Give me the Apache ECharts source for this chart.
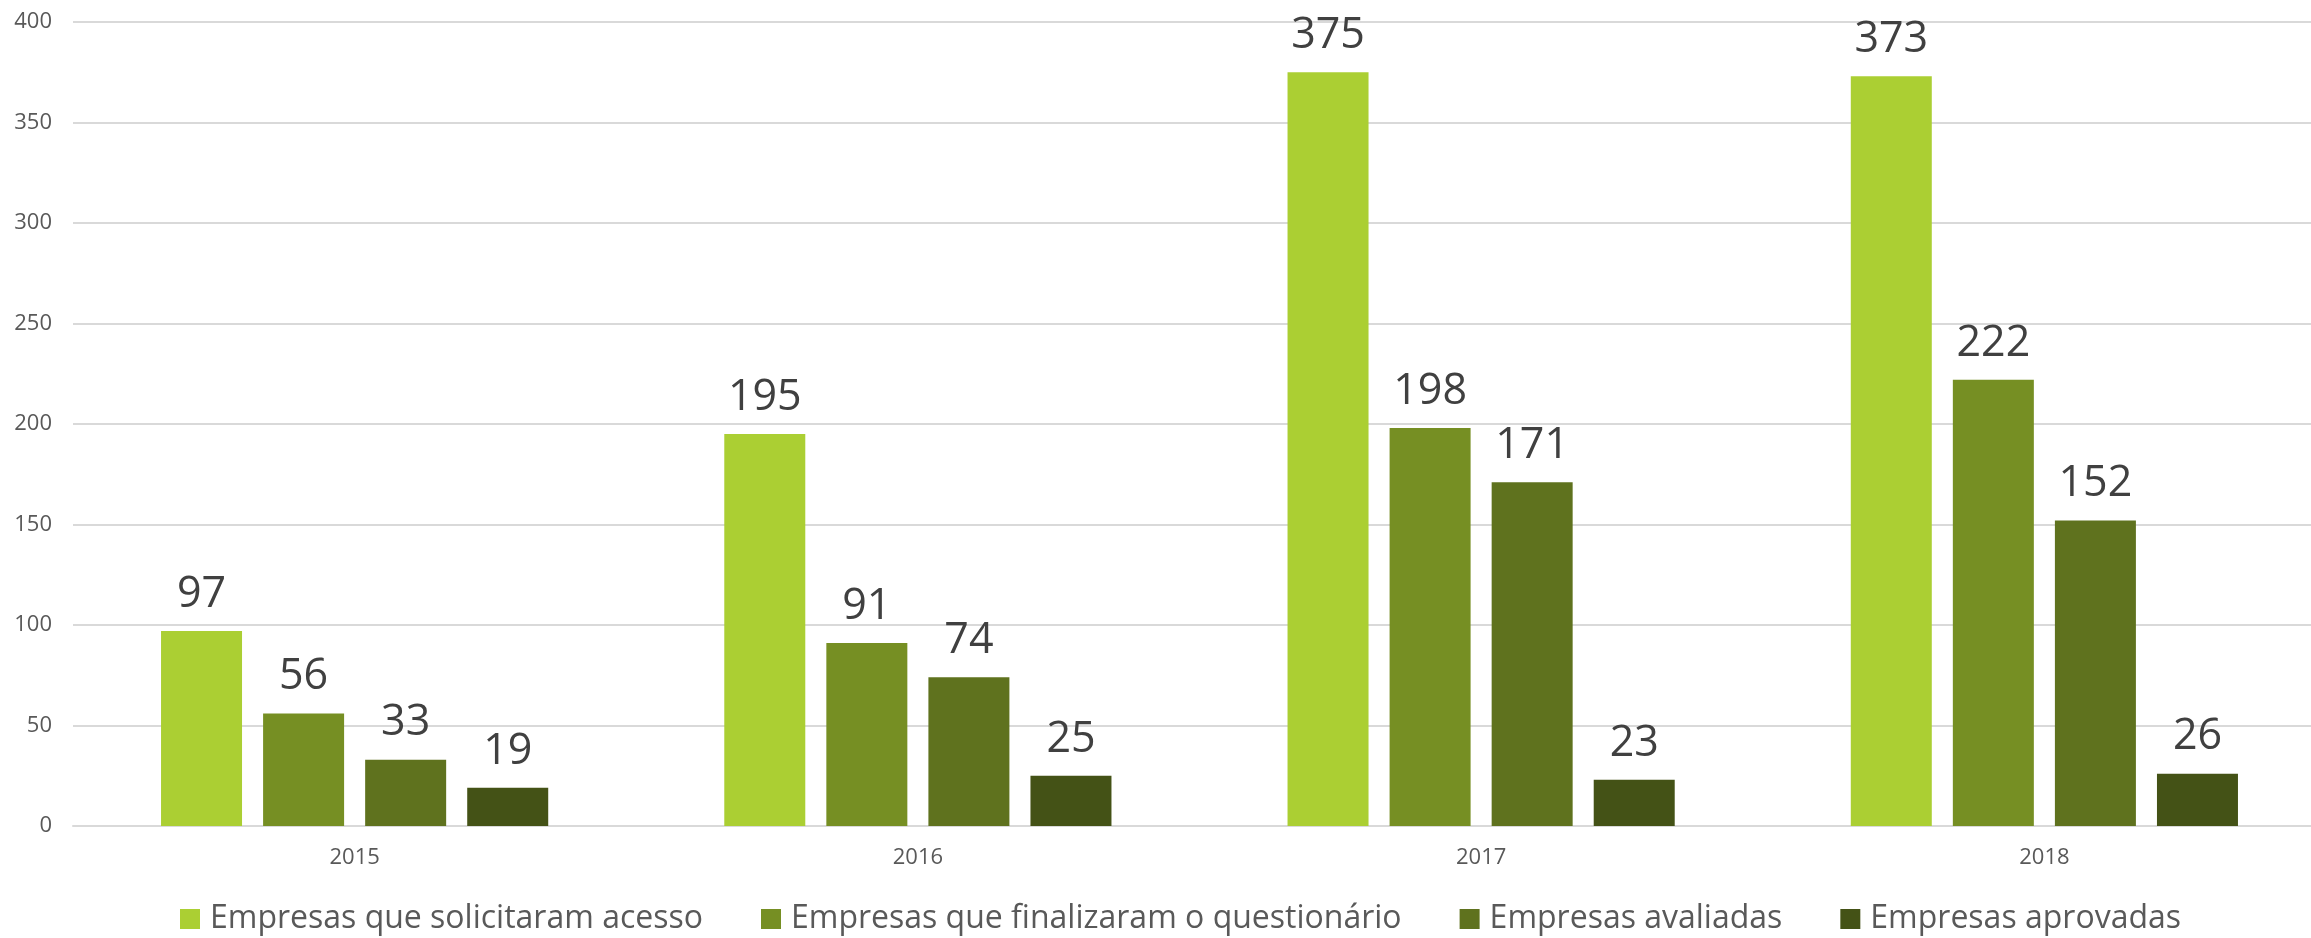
<!DOCTYPE html>
<html>
<head>
<meta charset="utf-8">
<script src="https://cdn.jsdelivr.net/npm/echarts@6/dist/echarts.min.js"></script>
<style>
html,body{margin:0;padding:0;background:#fff;}
#chart{width:2311px;height:938px;}
</style>
</head>
<body>
<div id="chart"></div>
<script>
const categories = ['2015', '2016', '2017', '2018'];
const seriesNames = [
  'Empresas que solicitaram acesso',
  'Empresas que finalizaram o questionário',
  'Empresas avaliadas',
  'Empresas aprovadas'
];
const solicitaram = [97, 195, 375, 373];
const finalizaram = [56, 91, 198, 222];
const avaliadas = [33, 74, 171, 152];
const aprovadas = [19, 25, 23, 26];
const colors = ['#ABCF33', '#768F23', '#5F721E', '#445216'];
const yTicks = { min: 0, max: 400, interval: 50 };

const allValues = [solicitaram, finalizaram, avaliadas, aprovadas];
const font = '"Open Sans", "Noto Sans", sans-serif';

const chart = echarts.init(document.getElementById('chart'), null, { renderer: 'canvas' });
chart.setOption({
  animation: false,
  backgroundColor: '#ffffff',
  color: colors,
  textStyle: { fontFamily: font },
  grid: { left: 73, top: 22, width: 2253, height: 804, containLabel: false, outerBoundsMode: 'none' },
  legend: {
    left: 175,
    top: 898,
    itemWidth: 20,
    itemHeight: 20,
    itemGap: 58,
    icon: 'rect',
    data: seriesNames,
    textStyle: { fontFamily: font, fontSize: 32, color: '#595959', padding: [0, 0, 0, 5] }
  },
  xAxis: {
    type: 'category',
    data: categories,
    axisLine: { show: true, lineStyle: { color: '#d9d9d9', width: 2 } },
    axisTick: { show: false },
    axisLabel: { fontFamily: font, fontSize: 22, color: '#595959', margin: 21 }
  },
  yAxis: {
    type: 'value',
    min: yTicks.min,
    max: yTicks.max,
    interval: yTicks.interval,
    axisLine: { show: false },
    axisTick: { show: false },
    splitLine: { lineStyle: { color: '#d9d9d9', width: 2 } },
    axisLabel: { fontFamily: font, fontSize: 22, color: '#595959', margin: 21 }
  },
  series: seriesNames.map((name, i) => ({
    name: name,
    type: 'bar',
    data: allValues[i],
    barWidth: 81,
    barGap: '26%',
    itemStyle: { color: colors[i] },
    label: {
      show: true,
      position: 'top',
      distance: 15,
      fontFamily: font,
      fontSize: 43,
      color: '#404040'
    }
  }))
});
</script>
</body>
</html>
